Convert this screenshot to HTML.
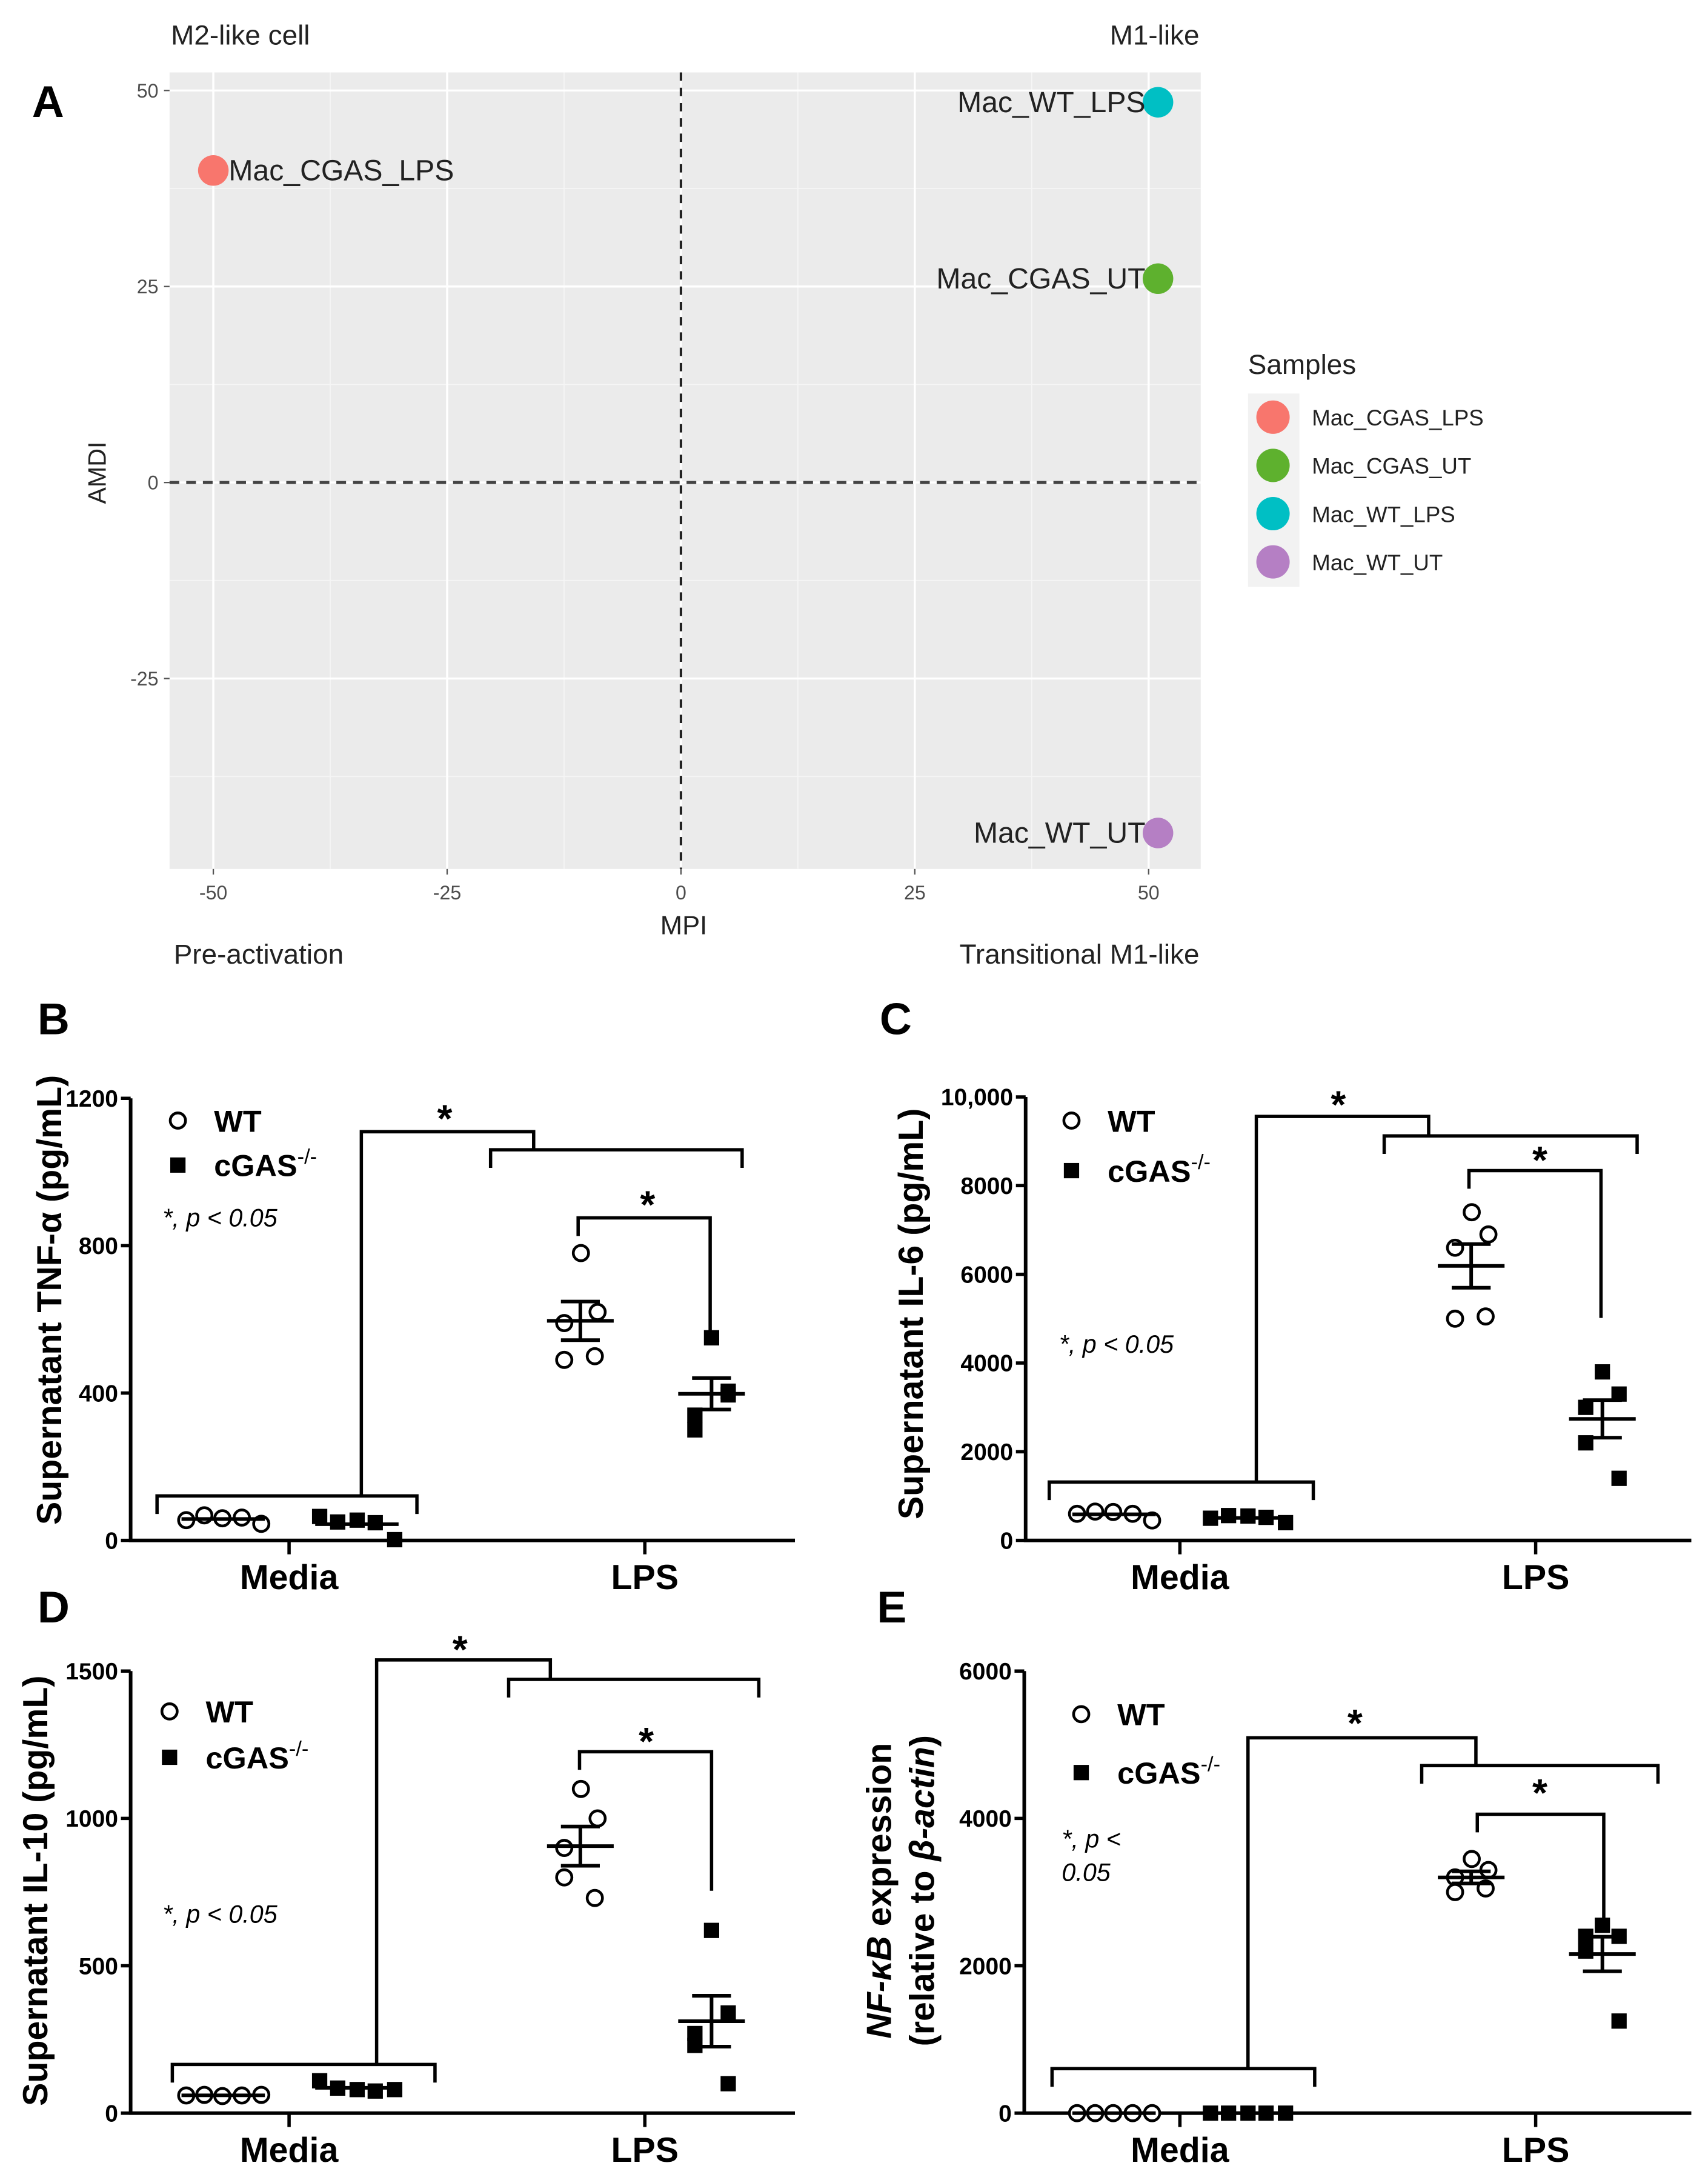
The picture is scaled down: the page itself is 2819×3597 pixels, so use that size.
<!DOCTYPE html>
<html><head><meta charset="utf-8">
<style>
html,body{margin:0;padding:0;background:#fff;}
svg{display:block;}
text{font-family:"Liberation Sans",Arial,sans-serif;}
</style></head>
<body>
<svg id="fig" width="2819" height="3597" viewBox="0 0 1229 1568" xmlns="http://www.w3.org/2000/svg">
<rect x="0" y="0" width="1229" height="1568" fill="#fff"/>
<g id="pa"></g>
<g id="pb"></g>
<g id="pc"></g>
<g id="pd"></g>
<g id="pe"></g>
</svg>
<script>
// ---- Panel A data ----
const aSamples = ["Mac_CGAS_LPS","Mac_CGAS_UT","Mac_WT_LPS","Mac_WT_UT"];
const aColors = ["#f8766d","#5eb12e","#00bfc4","#b57fc4"];
const aMPI = [-50, 51, 51, 51];
const aAMDI = [39.8, 26, 48.5, -44.7];
const aXTicks = [-50,-25,0,25,50];
const aYTicks = [50,25,0,-25];

// ---- Panel B (TNF-a) ----
const bWTMedia = [55,68,60,62,45];
const bKOMedia = [65,50,55,48,2];
const bWTLPS = [780,620,590,490,500];
const bKOLPS = [550,405,340,300,395];
const bTicks = [0,400,800,1200];

// ---- Panel C (IL-6) ----
const cWTMedia = [600,650,640,600,450];
const cKOMedia = [500,560,550,520,400];
const cWTLPS = [7400,6900,6600,5000,5050];
const cKOLPS = [3800,3300,3000,2200,1400];
const cTicks = [0,2000,4000,6000,8000,10000];
const cTickLabels = ["0","2000","4000","6000","8000","10,000"];

// ---- Panel D (IL-10) ----
const dWTMedia = [60,62,58,60,62];
const dKOMedia = [110,85,80,75,80];
const dWTLPS = [1100,1000,900,800,730];
const dKOLPS = [620,340,270,230,100];
const dTicks = [0,500,1000,1500];

// ---- Panel E (NF-kB) ----
const eWTMedia = [0,0,0,0,0];
const eKOMedia = [0,0,0,0,0];
const eWTLPS = [3450,3300,3200,3000,3050];
const eKOLPS = [2550,2400,2400,2200,1250];
const eTicks = [0,2000,4000,6000];

const NS="http://www.w3.org/2000/svg";
function mk(parent,tag,attrs,txt){
  const e=document.createElementNS(NS,tag);
  for(const k in attrs) e.setAttribute(k,attrs[k]);
  if(txt!==undefined) e.textContent=txt;
  parent.appendChild(e); return e;
}

// ================= Panel A =================
(function(){
  const g=document.getElementById('pa');
  const X0=122,X1=864,Y0=52,Y1=625;
  const xs=v=>490+v*6.73, ys=v=>347-v*5.64;
  const bg=mk(g,'rect',{x:X0,y:Y0,width:X1-X0,height:Y1-Y0,fill:'#ebebeb'});
  
  
  [-37.5,-12.5,12.5,37.5].forEach(v=>{
    const l=mk(g,'line',{x1:xs(v),x2:xs(v),y1:Y0,y2:Y1,stroke:'#f5f5f5','stroke-width':0.8});
    
    
  });
  [37.5,12.5,-12.5,-37.5].forEach(v=>{
    const l=mk(g,'line',{x1:X0,x2:X1,y1:ys(v),y2:ys(v),stroke:'#f5f5f5','stroke-width':0.8});
    
    
  });
  aXTicks.forEach(v=>{
    const l=mk(g,'line',{x1:xs(v),x2:xs(v),y1:Y0,y2:Y1,stroke:'#fff','stroke-width':1.5});
    
    
    const tk=mk(g,'line',{x1:xs(v),x2:xs(v),y1:Y1,y2:Y1+4,stroke:'#555','stroke-width':1});
    
    
    const t=mk(g,'text',{x:xs(v),y:Y1+22,'text-anchor':'middle','font-size':14,fill:'#4d4d4d'},String(v));
    
    
  });
  aYTicks.forEach(v=>{
    const l=mk(g,'line',{x1:X0,x2:X1,y1:ys(v),y2:ys(v),stroke:'#fff','stroke-width':1.5});
    
    
    const tk=mk(g,'line',{x1:X0-4,x2:X0,y1:ys(v),y2:ys(v),stroke:'#555','stroke-width':1});
    
    
    const t=mk(g,'text',{x:X0-8,y:ys(v)+5,'text-anchor':'end','font-size':14,fill:'#4d4d4d'},String(v));
    
    
  });
  const vx=mk(g,'line',{x1:xs(0),x2:xs(0),y1:Y0,y2:Y1,stroke:'#222','stroke-width':1.8,'stroke-dasharray':'6,5'});
  
  
  const hy=mk(g,'line',{x1:X0,x2:X1,y1:ys(0),y2:ys(0),stroke:'#444','stroke-width':2.2,'stroke-dasharray':'7,5'});
  
  
  aSamples.forEach((s,i)=>{
    const c=mk(g,'circle',{cx:xs(aMPI[i]),cy:ys(aAMDI[i]),r:11,fill:aColors[i]});
    
    
    const left=aMPI[i]<0;
    const t=mk(g,'text',{x:xs(aMPI[i])+(left?11:-9),y:ys(aAMDI[i])+7,'text-anchor':left?'start':'end','font-size':21,fill:'#222'},s);
    
    
  });
  const labs=[["M2-like cell",123,32,'start'],["M1-like",863,32,'end'],["Pre-activation",125,693,'start'],["Transitional M1-like",863,693,'end']];
  labs.forEach(l=>{
    const t=mk(g,'text',{x:l[1],y:l[2],'text-anchor':l[3],'font-size':20,fill:'#222'},l[0]);
    
    
  });
  const xt=mk(g,'text',{x:492,y:672,'text-anchor':'middle','font-size':19,fill:'#222'},"MPI");
  
  
  const yt=mk(g,'text',{x:0,y:0,'text-anchor':'middle','font-size':18,fill:'#222',transform:'translate(76,340) rotate(-90)'},"AMDI");
  
  
  const A=mk(g,'text',{x:23,y:84,'font-size':32,'font-weight':'bold',fill:'#000'},"A");
  
  
  const lt=mk(g,'text',{x:898,y:269,'font-size':20,fill:'#222'},"Samples");
  
  
  const lb=mk(g,'rect',{x:898,y:283,width:37,height:139,fill:'#f2f2f2'});
  
  
  aSamples.forEach((s,i)=>{
    const y=300+i*34.7;
    const c=mk(g,'circle',{cx:916,cy:y,r:12,fill:aColors[i]});
    
    
    const t=mk(g,'text',{x:944,y:y+6,'font-size':16,fill:'#222'},s);
    
    
  });
})();

function mean(a){return a.reduce((s,v)=>s+v,0)/a.length;}
function sem(a){const m=mean(a);return Math.sqrt(a.reduce((s,v)=>s+(v-m)*(v-m),0)/(a.length-1))/Math.sqrt(a.length);}

function dotPanel(cfg){
  const g=document.getElementById(cfg.id);
  const ys=v=>cfg.yb-(v/cfg.ymax)*(cfg.yb-cfg.yt);
  const ax=mk(g,'path',{d:`M${cfg.ax},${cfg.yt} L${cfg.ax},${cfg.yb} L${cfg.axEnd},${cfg.yb}`,fill:'none',stroke:'#000','stroke-width':2.6});
  
  
  cfg.ticks.forEach((v,i)=>{
    const tk=mk(g,'line',{x1:cfg.ax-7,x2:cfg.ax,y1:ys(v),y2:ys(v),stroke:'#000','stroke-width':2.4});
    
    
    const t=mk(g,'text',{x:cfg.ax-9,y:ys(v)+6,'text-anchor':'end','font-size':17,'font-weight':'bold',fill:'#000'},cfg.tickLabels?cfg.tickLabels[i]:String(v));
    
    
  });
  [["Media",cfg.xm],["LPS",cfg.xl]].forEach(c=>{
    const tk=mk(g,'line',{x1:c[1],x2:c[1],y1:cfg.yb,y2:cfg.yb+10,stroke:'#000','stroke-width':2.4});
    
    
    const t=mk(g,'text',{x:c[1],y:cfg.yb+35,'text-anchor':'middle','font-size':25,'font-weight':'bold',fill:'#000'},c[0]);
    
    
  });
  const groups=[
    {d:cfg.wtM,cx:cfg.xm,offs:[-74,-61,-48,-34,-20],sq:false,hw:30,name:'wt-media'},
    {d:cfg.koM,cx:cfg.xm,offs:[22,35,49,62,76],sq:true,hw:30,name:'cgas-media'},
    {d:cfg.wtL,cx:cfg.xl,offs:[-46,-34,-58,-58,-36],sq:false,hw:24,name:'wt-lps'},
    {d:cfg.koL,cx:cfg.xl,offs:[48,60,36,36,60],sq:true,hw:24,name:'cgas-lps'}
  ];
  groups.forEach(gr=>{
    gr.d.forEach((v,i)=>{
      const x=gr.cx+gr.offs[i], y=ys(v);
      let e;
      if(gr.sq) e=mk(g,'rect',{x:x-5.5,y:y-5.5,width:11,height:11,fill:'#000'});
      else e=mk(g,'circle',{cx:x,cy:y,r:5.5,fill:'#fff',stroke:'#000','stroke-width':2});
      
      
    });
    const c=gr.cx+gr.offs.reduce((s,o)=>s+o,0)/5;
    const m=mean(gr.d), s=sem(gr.d);
    const ml=mk(g,'line',{x1:c-gr.hw,x2:c+gr.hw,y1:ys(m),y2:ys(m),stroke:'#000','stroke-width':2.6});
    
    
    if(gr.cx===cfg.xl){
      const ev=mk(g,'path',{d:`M${c},${ys(m+s)} L${c},${ys(m-s)} M${c-14},${ys(m+s)} L${c+14},${ys(m+s)} M${c-14},${ys(m-s)} L${c+14},${ys(m-s)}`,fill:'none',stroke:'#000','stroke-width':2.6});
      
      
    }
  });
  const b=cfg.br;
  const p1=mk(g,'path',{d:`M${b.m1},${b.my+13} L${b.m1},${b.my} L${b.m2},${b.my} L${b.m2},${b.my+13} M${b.vx},${b.my} L${b.vx},${b.ty} L${b.tx2},${b.ty} L${b.tx2},${b.ly} M${b.l1},${b.ly+13} L${b.l1},${b.ly} L${b.l2},${b.ly} L${b.l2},${b.ly+13}`,fill:'none',stroke:'#000','stroke-width':2.4});
  
  
  const p2=mk(g,'path',{d:`M${b.i1},${b.iy+13} L${b.i1},${b.iy} L${b.i2},${b.iy} L${b.i2},${b.iy2}`,fill:'none',stroke:'#000','stroke-width':2.4});
  
  
  [[b.s1x,b.s1y],[b.s2x,b.s2y]].forEach(s=>{
    const t=mk(g,'text',{x:s[0],y:s[1]+14,'text-anchor':'middle','font-size':28,'font-weight':'bold',fill:'#000'},"*");
    
    
  });
  const L=cfg.leg;
  const lc=mk(g,'circle',{cx:L.x,cy:L.y1,r:5.5,fill:'#fff',stroke:'#000','stroke-width':2});
  
  
  const lt1=mk(g,'text',{x:L.x+26,y:L.y1+8,'font-size':22,'font-weight':'bold',fill:'#000'},"WT");
  
  
  const ls=mk(g,'rect',{x:L.x-5.5,y:L.y2-5.5,width:11,height:11,fill:'#000'});
  
  
  const lt2=mk(g,'text',{x:L.x+26,y:L.y2+8,'font-size':22,'font-weight':'bold',fill:'#000'});
  
  
  lt2.appendChild(document.createTextNode("cGAS"));
  mk(lt2,'tspan',{dy:-9,'font-size':15,'font-weight':'normal'},"-/-");
  L.p.forEach((line,i)=>{
    const t=mk(g,'text',{x:L.px,y:L.py+i*24,'font-size':18,'font-style':'italic',fill:'#000'},line);
    
    
  });
  const P=mk(g,'text',{x:cfg.letter[0],y:cfg.letter[1],'font-size':32,'font-weight':'bold',fill:'#000'},cfg.letter[2]);
  
  
  cfg.title(g);
}

dotPanel({id:'pb',ax:94,axEnd:572,yt:790,yb:1108,ymax:1200,ticks:bTicks,xm:208,xl:464,
  wtM:bWTMedia,koM:bKOMedia,wtL:bWTLPS,koL:bKOLPS,
  br:{m1:113,m2:300,my:1076,vx:260,ty:814,tx2:384,ly:827,l1:353,l2:534,i1:416,i2:511,iy:876,iy2:960,s1x:320,s1y:800,s2x:466,s2y:862},
  leg:{x:128,y1:806,y2:838,px:117,py:882,p:["*, p < 0.05"]},letter:[27,744,"B"],
  title:g=>{const t=mk(g,'text',{x:0,y:0,'text-anchor':'middle','font-size':25,'font-weight':'bold',fill:'#000',transform:'translate(44,935) rotate(-90)'},"Supernatant TNF-α (pg/mL)");
    
    }
});
dotPanel({id:'pc',ax:738,axEnd:1217,yt:789,yb:1108,ymax:10000,ticks:cTicks,tickLabels:cTickLabels,xm:849,xl:1105,
  wtM:cWTMedia,koM:cKOMedia,wtL:cWTLPS,koL:cKOLPS,
  br:{m1:755,m2:945,my:1066,vx:904,ty:803,tx2:1028,ly:817,l1:996,l2:1178,i1:1057,i2:1152,iy:842,iy2:948,s1x:963,s1y:790,s2x:1108,s2y:830},
  leg:{x:771,y1:806,y2:842,px:762,py:973,p:["*, p < 0.05"]},letter:[633,744,"C"],
  title:g=>{const t=mk(g,'text',{x:0,y:0,'text-anchor':'middle','font-size':25,'font-weight':'bold',fill:'#000',transform:'translate(664,945) rotate(-90)'},"Supernatant IL-6 (pg/mL)");
    
    }
});
dotPanel({id:'pd',ax:94,axEnd:572,yt:1202,yb:1520,ymax:1500,ticks:dTicks,xm:208,xl:464,
  wtM:dWTMedia,koM:dKOMedia,wtL:dWTLPS,koL:dKOLPS,
  br:{m1:124,m2:313,my:1485,vx:271,ty:1194,tx2:396,ly:1208,l1:366,l2:546,i1:417,i2:512,iy:1260,iy2:1360,s1x:331,s1y:1182,s2x:465,s2y:1248},
  leg:{x:122,y1:1231,y2:1264,px:117,py:1383,p:["*, p < 0.05"]},letter:[27,1167,"D"],
  title:g=>{const t=mk(g,'text',{x:0,y:0,'text-anchor':'middle','font-size':25,'font-weight':'bold',fill:'#000',transform:'translate(34,1360) rotate(-90)'},"Supernatant IL-10 (pg/mL)");
    
    }
});
dotPanel({id:'pe',ax:737,axEnd:1217,yt:1202,yb:1520,ymax:6000,ticks:eTicks,xm:849,xl:1105,
  wtM:eWTMedia,koM:eKOMedia,wtL:eWTLPS,koL:eKOLPS,
  br:{m1:757,m2:946,my:1488,vx:898,ty:1250,tx2:1062,ly:1270,l1:1023,l2:1193,i1:1063,i2:1154,iy:1305,iy2:1390,s1x:975,s1y:1235,s2x:1108,s2y:1285},
  leg:{x:778,y1:1233,y2:1275,px:764,py:1329,p:["*, p <","0.05"]},letter:[631,1167,"E"],
  title:g=>{
    const t=mk(g,'text',{x:0,y:0,'text-anchor':'middle','font-size':25,'font-weight':'bold',fill:'#000',transform:'translate(641,1360) rotate(-90)'});
    
    
    mk(t,'tspan',{'font-style':'italic'},"NF-κB");
    mk(t,'tspan',{},"  expression");
    const t2=mk(g,'text',{x:0,y:0,'text-anchor':'middle','font-size':25,'font-weight':'bold',fill:'#000',transform:'translate(672,1360) rotate(-90)'});
    
    
    mk(t2,'tspan',{},"(relative to ");
    mk(t2,'tspan',{'font-style':'italic'},"β-actin");
    mk(t2,'tspan',{},")");
  }
});
</script>
</body></html>
